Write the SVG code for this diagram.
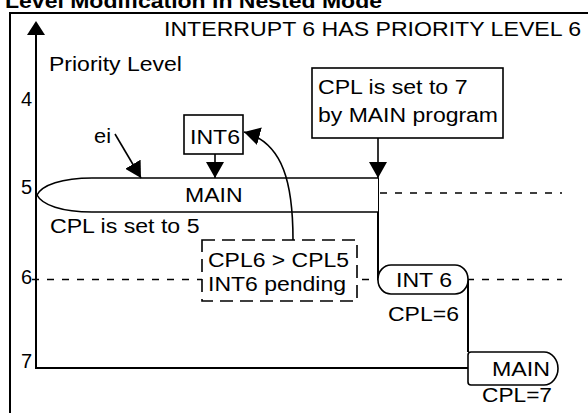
<svg xmlns="http://www.w3.org/2000/svg" width="588" height="413" viewBox="0 0 588 413">
<style>
text{font-family:"Liberation Sans",Arial,sans-serif;font-size:20px;fill:#000}
.b{font-weight:bold}
.ln{stroke:#000;stroke-width:2;fill:none}
.sh{stroke:#000;stroke-width:1.6;fill:#fff}
.dl{stroke:#000;stroke-width:1.6;fill:none;stroke-dasharray:7 8}
.db{stroke:#000;stroke-width:1.6;fill:#fff;stroke-dasharray:13 7}
.ar{stroke:#000;stroke-width:1.6;fill:none;marker-end:url(#ah)}
</style>
<defs>
<marker id="ah" viewBox="0 0 16 18" refX="16" refY="9" markerWidth="16" markerHeight="18" markerUnits="userSpaceOnUse" orient="auto">
<path d="M0,0 L16,9 L0,18 z" fill="#000"/>
</marker>
</defs>
<rect width="588" height="413" fill="#fff"/>
<text class="b" x="5" y="8" textLength="377" lengthAdjust="spacingAndGlyphs">Level Modification in Nested Mode</text>
<path class="ln" d="M10,413 V13 H590"/>
<text x="164" y="36" textLength="417" lengthAdjust="spacingAndGlyphs">INTERRUPT 6 HAS PRIORITY LEVEL 6</text>
<g id="axis">
<path class="ln" d="M36,32 V368 H468"/>
<polygon points="36,21 27,35 45,35" fill="#000"/>
<text x="49" y="71" textLength="133" lengthAdjust="spacingAndGlyphs">Priority Level</text>
<text x="21" y="106">4</text>
<text x="21" y="194">5</text>
<text x="21" y="284">6</text>
<text x="21" y="368">7</text>
</g>
<g id="levels">
<path class="dl" d="M32,279.5 H562"/>
<path class="dl" d="M380,193 H562"/>
<path class="ln" d="M378,178 V279"/>
<path class="ln" d="M468,279 V352"/>
</g>
<g id="main5">
<path class="sh" d="M378,178 H92 C62,178 42,185 37,195 C42,205 62,212 92,212 H378"/>
<text x="185" y="202" textLength="57.5" lengthAdjust="spacingAndGlyphs">MAIN</text>
<text x="50" y="233" textLength="149.5" lengthAdjust="spacingAndGlyphs">CPL is set to 5</text>
</g>
<g id="ei">
<text x="94" y="143" textLength="17" lengthAdjust="spacingAndGlyphs">ei</text>
</g>
<g id="int6box">
<rect class="sh" x="184" y="115" width="59" height="39"/>
<text x="190" y="144" textLength="50" lengthAdjust="spacingAndGlyphs">INT6</text>
</g>
<g id="cpl7box">
<rect class="sh" x="312" y="68" width="191" height="70"/>
<text x="318" y="94" textLength="149.5" lengthAdjust="spacingAndGlyphs">CPL is set to 7</text>
<text x="318" y="122" textLength="180" lengthAdjust="spacingAndGlyphs">by MAIN program</text>
</g>
<g id="pending">
<rect class="db" x="202" y="240" width="155" height="61"/>
<text x="208" y="267" textLength="141" lengthAdjust="spacingAndGlyphs">CPL6 &gt; CPL5</text>
<text x="208" y="291" textLength="138" lengthAdjust="spacingAndGlyphs">INT6 pending</text>
</g>
<g id="int6">
<rect class="sh" x="378" y="265" width="90" height="29" rx="13" ry="14"/>
<text x="396" y="287" textLength="56" lengthAdjust="spacingAndGlyphs">INT 6</text>
<text x="388" y="321" textLength="71" lengthAdjust="spacingAndGlyphs">CPL=6</text>
</g>
<g id="main7">
<path class="sh" d="M471,352 H544 C552,352 558,360 558,368.5 C558,377 552,385 544,385 H471 Q468,385 468,382 V355 Q468,352 471,352 Z"/>
<text x="492" y="376" textLength="58" lengthAdjust="spacingAndGlyphs">MAIN</text>
<text x="482" y="402" textLength="70" lengthAdjust="spacingAndGlyphs">CPL=7</text>
</g>
<g id="connectors">
<path class="ar" d="M115,134 L141,178"/>
<path class="ar" d="M215,154 V178"/>
<path class="ar" d="M378,138 V178"/>
<path class="ar" d="M293,240 C293,185 284,143 244,132"/>
</g>
</svg>
